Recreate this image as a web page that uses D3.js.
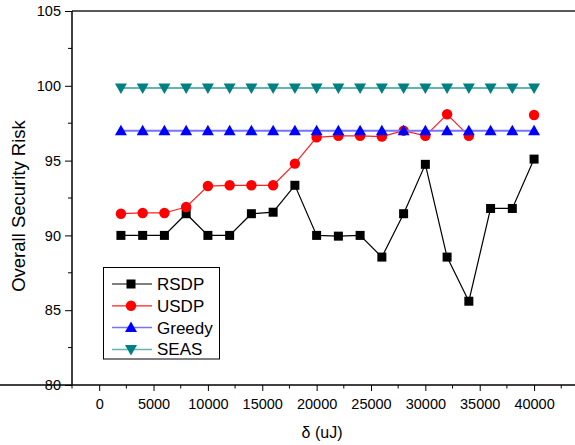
<!DOCTYPE html>
<html>
<head>
<meta charset="utf-8">
<script src="https://cdn.jsdelivr.net/npm/d3@7"></script>
<style>
  body { margin: 0; background: #fff; }
  svg text { font-family: Arial, "Liberation Sans", sans-serif; }
</style>
</head>
<body>
<div id="chart"></div>
<script>
// data
var energy = [2000, 4000, 6000, 8000, 10000, 12000, 14000, 16000, 18000, 20000,
              22000, 24000, 26000, 28000, 30000, 32000, 34000, 36000, 38000, 40000]
var rsdp = [90.0, 90.0, 90.0, 91.45, 90.0, 90.0, 91.45, 91.55, 93.35, 90.0,
            89.95, 90.0, 88.55, 91.45, 94.75, 88.55, 85.6, 91.8, 91.8, 95.1]
var usdp = [91.45, 91.5, 91.5, 91.9, 93.3, 93.35, 93.35, 93.35, 94.8, 96.55,
            96.65, 96.65, 96.6, 97.0, 96.65, 98.1, 96.65, null, null, 98.05]
var greedy = [97, 97, 97, 97, 97, 97, 97, 97, 97, 97,
              97, 97, 97, 97, 97, 97, 97, 97, 97, 97]
var seas = [99.85, 99.85, 99.85, 99.85, 99.85, 99.85, 99.85, 99.85, 99.85, 99.85,
            99.85, 99.85, 99.85, 99.85, 99.85, 99.85, 99.85, 99.85, 99.85, 99.85]
var xTicks = [0, 5000, 10000, 15000, 20000, 25000, 30000, 35000, 40000]
var yTicks = [80, 85, 90, 95, 100, 105]

var series = [
    { name: 'RSDP', values: rsdp, color: '#000000', lineColor: '#000000', lineWidth: 1.2, symbol: 'square' },
    { name: 'USDP', values: usdp, color: '#ff0000', lineColor: '#ff2020', lineWidth: 1.2, symbol: 'circle' },
    { name: 'Greedy', values: greedy, color: '#0000ff', lineColor: '#7373ff', lineWidth: 2, symbol: 'up' },
    { name: 'SEAS', values: seas, color: '#008080', lineColor: '#66b3b3', lineWidth: 2, symbol: 'down' }
]

var width = 575
var height = 445
var marginLeft = 72
var plotTop = 11
var plotBottom = 385
var plotRight = 583

var X = d3.scaleLinear().domain([-2500, 44500]).range([marginLeft, plotRight])
var Y = d3.scaleLinear().domain([80, 105]).range([plotBottom, plotTop])

var svg = d3.select('#chart').append('svg')
    .attr('width', width)
    .attr('height', height)

// minor ticks
var xMinor = d3.range(-2500, 44500, 2500).filter(function (d) { return d % 5000 !== 0 })
var yMinor = d3.range(82.5, 105, 5)

// top frame
svg.append('line')
    .attr('x1', marginLeft).attr('x2', width)
    .attr('y1', plotTop).attr('y2', plotTop)
    .attr('stroke', '#222').attr('stroke-width', 1.5)

var xAxisG = svg.append('g')
    .attr('transform', 'translate(0,' + plotBottom + ')')
xAxisG.call(d3.axisBottom(X).tickValues(xTicks).tickSize(6).tickPadding(8).tickFormat(d3.format('d')))
xAxisG.selectAll('.minor')
    .data(xMinor).enter()
    .append('line')
    .attr('class', 'minor')
    .attr('x1', function (d) { return X(d) })
    .attr('x2', function (d) { return X(d) })
    .attr('y1', 0).attr('y2', 3.5)
    .attr('stroke', '#000')

var yAxisG = svg.append('g')
    .attr('transform', 'translate(' + marginLeft + ',0)')
yAxisG.call(d3.axisLeft(Y).tickValues(yTicks).tickSize(7).tickPadding(4))
yAxisG.selectAll('.minor')
    .data(yMinor).enter()
    .append('line')
    .attr('class', 'minor')
    .attr('y1', function (d) { return Y(d) })
    .attr('y2', function (d) { return Y(d) })
    .attr('x1', 0).attr('x2', -4)
    .attr('stroke', '#000')

svg.selectAll('.domain').attr('stroke', '#000').attr('stroke-width', 1.5)
xAxisG.select('.domain').attr('d', 'M0,0H' + width)
yAxisG.select('.domain').attr('d', 'M0,' + plotBottom + 'V' + plotTop)
svg.selectAll('.tick text').attr('font-size', 14.5).attr('fill', '#000')
    .attr('font-family', 'Arial, "Liberation Sans", sans-serif')

// axis titles
svg.append('text')
    .attr('x', 322).attr('y', 438)
    .attr('text-anchor', 'middle')
    .attr('font-size', 16)
    .text('δ (uJ)')
svg.append('text')
    .attr('transform', 'translate(25,206) rotate(-90)')
    .attr('text-anchor', 'middle')
    .attr('font-size', 18.5)
    .text('Overall Security Risk')

function drawSymbol(g, type, color, cx, cy) {
    if (type === 'square') {
        g.append('rect').attr('x', cx - 4.5).attr('y', cy - 4.5)
            .attr('width', 9).attr('height', 9).attr('fill', color)
    } else if (type === 'circle') {
        g.append('circle').attr('cx', cx).attr('cy', cy).attr('r', 5.2).attr('fill', color)
    } else if (type === 'up') {
        g.append('path').attr('d', 'M' + cx + ',' + (cy - 6) + 'L' + (cx + 6) + ',' + (cy + 4.5) + 'L' + (cx - 6) + ',' + (cy + 4.5) + 'Z')
            .attr('fill', color)
    } else {
        g.append('path').attr('d', 'M' + cx + ',' + (cy + 6) + 'L' + (cx + 6) + ',' + (cy - 4.5) + 'L' + (cx - 6) + ',' + (cy - 4.5) + 'Z')
            .attr('fill', color)
    }
}

var line = d3.line()
    .defined(function (d) { return d[1] !== null })
    .x(function (d) { return X(d[0]) })
    .y(function (d) { return Y(d[1]) })

series.forEach(function (s) {
    var pts = energy.map(function (e, i) { return [e, s.values[i]] })
    var g = svg.append('g').attr('class', 'series')
    g.append('path')
        .attr('d', line(pts))
        .attr('fill', 'none')
        .attr('stroke', s.lineColor)
        .attr('stroke-width', s.lineWidth)
    pts.forEach(function (p) {
        if (p[1] === null) return
        drawSymbol(g, s.symbol, s.color, X(p[0]), Y(p[1]))
    })
})

// legend
var lg = svg.append('g')
lg.append('rect')
    .attr('x', 103.5).attr('y', 267.5)
    .attr('width', 116).attr('height', 91.5)
    .attr('fill', '#fff').attr('stroke', '#000').attr('stroke-width', 1)
series.forEach(function (s, i) {
    var yy = 284 + i * 21.8
    lg.append('line')
        .attr('x1', 112).attr('x2', 152)
        .attr('y1', yy).attr('y2', yy)
        .attr('stroke', s.lineColor).attr('stroke-width', s.lineWidth === 2 ? 1.5 : 1.2)
    drawSymbol(lg, s.symbol, s.color, 131, yy)
    lg.append('text')
        .attr('x', 157).attr('y', yy + 6)
        .attr('font-size', 17)
        .text(s.name)
})
</script>
</body>
</html>
